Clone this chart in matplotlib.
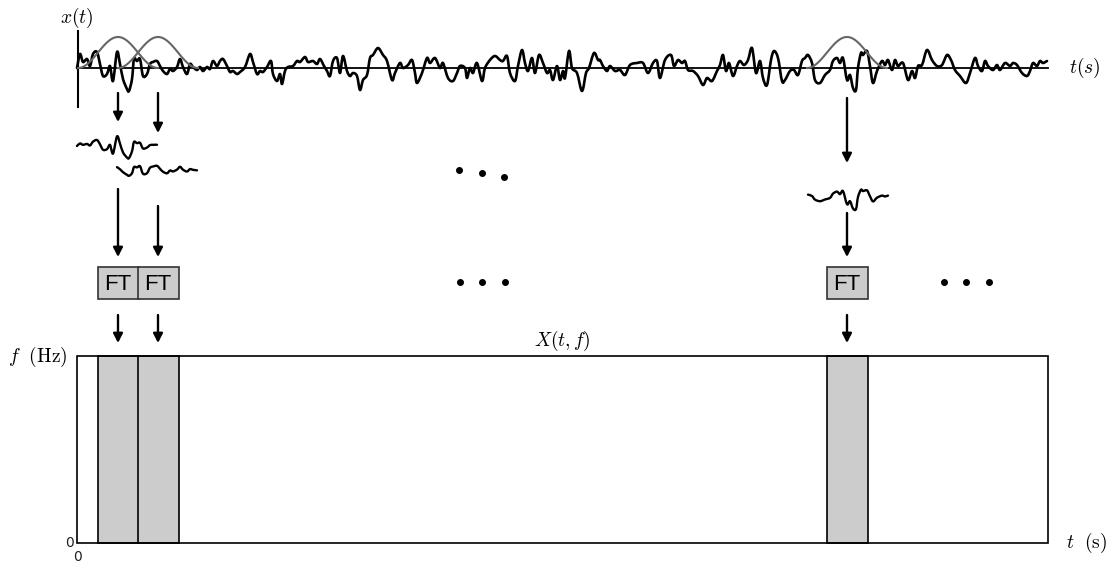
import numpy as np
import matplotlib
matplotlib.use("Agg")
import matplotlib.pyplot as plt
from matplotlib.patches import Rectangle, PathPatch
from matplotlib.path import Path

plt.rcParams['mathtext.fontset'] = 'cm'

# ---- data ----
# signal samples: time position and amplitude
sig_t = [77, 80, 83, 87, 90, 93, 97, 100, 103, 107, 110, 113, 117, 120, 123, 127, 129, 132, 134, 137,
         140, 143, 147, 150, 153, 157, 160, 163, 167, 170, 173, 177, 180, 183, 187, 190, 193, 197, 200, 203,
         207, 210, 213, 217, 220, 223, 227, 230, 233, 237, 240, 245, 250, 253, 257, 260, 263, 267, 271, 273,
         277, 280, 282, 285, 288, 293, 297, 300, 305, 308, 313, 317, 320, 324, 327,
         330, 333, 337, 340, 343, 347, 350, 353, 357, 360, 363, 367, 370, 373, 378, 383, 387, 392, 395, 400,
         403, 408, 412, 415, 417, 422, 427, 430, 435, 440, 443, 448, 453, 457, 460, 465, 467, 470, 473, 477,
         482, 485, 490, 495, 500, 503, 507, 510, 515, 518, 522, 525, 528, 532, 535, 539, 543, 547, 550, 553,
         557, 560, 563, 565, 569, 572, 577, 582, 586, 589, 594, 598,
         600, 603, 607, 610, 615, 620, 625, 630, 637, 643, 648, 653, 657, 660, 665, 671, 674, 678, 682, 685,
         688, 693, 698, 703, 707, 712, 717, 720, 723, 726, 729, 733, 737, 740, 744, 748, 752, 756, 760, 763,
         767, 771, 774, 778, 782, 785, 790, 794, 798, 802, 805, 808, 812, 815, 820, 825, 830, 833, 837, 840,
         843, 847, 850, 853, 856, 858, 861, 863, 867, 870, 873, 877, 882, 885, 888, 892, 895, 898, 903, 908,
         912, 915, 918, 922, 927, 932, 937, 942, 947, 951, 955, 960, 966, 970, 975, 978, 982, 985, 988, 993,
         997, 1000, 1005, 1010, 1013, 1017, 1022, 1027, 1030, 1033, 1037, 1040, 1043, 1047]
sig_x = [0, 14, 6, 9, 2, 14, 16, 4, -8, -6, 2, -13, 16, 4, -11, -21, -23, -11, 9, 7,
         9, -8, -6, 4, 6, 7, 2, -3, -6, -1, -3, 1, 9, 1, -6, 4, 1, -2, 1, -3,
         1, -1, 7, 2, 7, 9, 2, -4, -3, -6, -4, 1, 14, 6, -6, -3, -4, 1, 7, -6,
         -13, -6, -16, -3, 1, 2, 7, 6, 11, 6, 7, 4, 9, 2, -3,
         -8, 7, 10, -5, 12, -3, -8, -5, -8, -22, -12, -7, 10, 13, 20, 13, 7, -12, -5, 5,
         0, 3, 8, -5, -15, -5, 10, 5, 10, 0, 5, -10, -13, -5, 2, 0, -10, 0, -5, 5,
         -13, 0, 8, 12, 8, 7, 12, -5, -13, 2, 18, 5, -3, 10, -5, 13, 5, -5, -2, -12,
         2, -12, -3, -10, 17, 0, -5, -23, -5, 0, 15, 8,
         8, 2, -3, 2, -3, -2, -7, 3, 5, 5, -5, 5, 7, -10, 8, 13, 2, 8, 5, 7,
         -2, -3, -8, -17, -10, -13, -3, 3, 13, -3, 5, -8, 2, 7, 3, 8, 20, -5, 7, -10,
         -17, 8, 17, 10, -13, -12, -3, -2, -7, 7, 10, 13, 5, -12, -15, -7, -2, 7, 10, 5,
         10, -12, -7, -20, -22, 0, 15, 13, 17, 2, -15, -3, 7, 3, 8, -2, 8, 2, 5, -12,
         -3, -10, 2, 3, 18, 8, 2, 3, 13, 8, -2, -8, -15, -5, 10, 2, -3, 7, 2, -2,
         3, -2, 5, 2, 5, 3, -5, -8, -3, 5, 2, 7, 5, 7]

win_centers = [118, 158, 847]      # analysis windows (time positions)
seg_levels = [146, 170, 197]       # where each windowed piece is drawn

# ---- layout ----
W, H = 1110, 563
T_START, T_END = 77, 1048
BASE = 68
HALF = 40
WIN_H = 31
GRAY = '#cccccc'

fig = plt.figure(figsize=(W / 100, H / 100), dpi=100)
ax = fig.add_axes([0, 0, 1, 1])
ax.set_xlim(0, W)
ax.set_ylim(H, 0)
ax.axis('off')

t = np.array(sig_t, dtype=float)
x = np.array(sig_x, dtype=float)


def smooth_line(xs, ys, lw, color='k', z=3):
    """Draw a smooth curve through the given points (Catmull-Rom as Bezier)."""
    pts = np.column_stack([xs, ys])
    n = len(pts)
    verts = [pts[0]]
    codes = [Path.MOVETO]
    for i in range(n - 1):
        p0 = pts[i - 1] if i > 0 else pts[i]
        p1 = pts[i]
        p2 = pts[i + 1]
        p3 = pts[i + 2] if i + 2 < n else pts[i + 1]
        c1 = p1 + (p2 - p0) / 6.0
        c2 = p2 - (p3 - p1) / 6.0
        verts += [c1, c2, p2]
        codes += [Path.CURVE4] * 3
    ax.add_patch(PathPatch(Path(verts, codes), facecolor='none', edgecolor=color,
                           lw=lw, zorder=z, joinstyle='round', capstyle='round'))


# signal axes
ax.plot([T_START, T_END], [BASE, BASE], color='k', lw=1.3, zorder=2)
ax.plot([78, 78], [31, 107], color='k', lw=1.5, zorder=2)
smooth_line(t, BASE - x, lw=1.9)


def hann(tt, c):
    return 0.5 * (1 + np.cos(np.pi * np.clip((tt - c) / HALF, -1, 1)))


for c in win_centers:
    tw = np.linspace(c - HALF, c + HALF, 120)
    ax.plot(tw, BASE - WIN_H * hann(tw, c), color='#666666', lw=1.5, zorder=4)

# windowed pieces
for c, lvl in zip(win_centers, seg_levels):
    m = np.abs(t - c) <= HALF + 1
    ts = t[m]
    vs = x[m] * (0.3 + 0.7 * hann(ts, c)) * 0.6
    smooth_line(ts, lvl - vs, lw=1.7)


def arrow(xp, y0, y1):
    ax.annotate('', xy=(xp, y1), xytext=(xp, y0),
                arrowprops=dict(arrowstyle='-|>,head_length=0.55,head_width=0.28',
                                lw=1.7, color='k', shrinkA=0, shrinkB=0))


row1 = [(93, 122), (93, 133), (98, 163)]
row2 = [(189, 257), (206, 257), (213, 257)]
for c, (a, b), (d, e) in zip(win_centers, row1, row2):
    arrow(c, a, b)
    arrow(c, d, e)
    arrow(c, 315, 343)

# FT boxes
for c in win_centers:
    ax.add_patch(Rectangle((c - 20.5, 267), 41, 32, facecolor=GRAY,
                           edgecolor='#333333', lw=1.2, zorder=3))
    ax.text(c, 284, 'FT', ha='center', va='center', fontsize=16,
            family='Liberation Sans', zorder=4)

# dots
ax.scatter([459, 481.5, 504], [169.5, 173, 176.5], s=16, color='k')
ax.scatter([459.5, 482, 504.5], [281.5, 281.5, 281.5], s=16, color='k')
ax.scatter([943.5, 966, 988.5], [281.5, 281.5, 281.5], s=16, color='k')

# time-frequency plane
ax.add_patch(Rectangle((T_START, 356), T_END - T_START, 187, facecolor='none',
                       edgecolor='k', lw=1.2, zorder=3))
for c in win_centers:
    ax.add_patch(Rectangle((c - 20.5, 356), 41, 187, facecolor=GRAY,
                           edgecolor='k', lw=1.2, zorder=2))

# labels
ax.text(77, 18, r'$x(t)$', ha='center', va='center', fontsize=14)
ax.text(1069, 68, r'$t(s)$', ha='left', va='center', fontsize=14)
ax.text(562, 341, r'$X(t,f)$', ha='center', va='center', fontsize=14)
ax.text(67, 357, r'$f\ \ (\mathrm{Hz})$', ha='right', va='center', fontsize=14)
ax.text(1066, 543, r'$t\ \ (\mathrm{s})$', ha='left', va='center', fontsize=14)
ax.text(69, 543, '0', ha='center', va='center', fontsize=10, color='#222222')
ax.text(77, 557, '0', ha='center', va='center', fontsize=10, color='#222222')

fig.savefig('out.png', dpi=100)
